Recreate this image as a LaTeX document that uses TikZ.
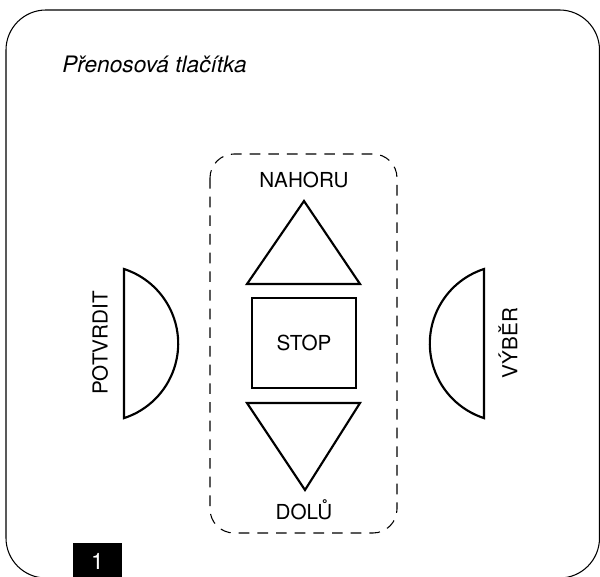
\documentclass[tikz,border=0pt]{standalone}
\usepackage{fontspec}
\setmainfont{TeX Gyre Heros}
\tikzset{
  btnline/.style={line width=1.6pt, line join=miter},
  btnlabel/.style={font=\fontsize{15.5}{17}\selectfont, inner sep=0pt},
  grouplines/.style={line width=0.8pt, dash pattern=on 8pt off 6pt, rounded corners=18pt}
}
\begin{document}
\begin{tikzpicture}[x=0.75pt, y=-0.75pt]
\useasboundingbox (0,0) rectangle (600,577);

%Frame
\draw[line width=0.8pt, rounded corners=30pt] (6,10) rectangle (599.5,578);

%Title
\node[anchor=base west, inner sep=0pt, font=\fontsize{17}{19}\selectfont\itshape] (title) at (62,73) {Přenosová tlačítka};

%Dashed group
\draw[grouplines] (210,154) rectangle (397,533);

%Up
\draw[btnline] (304,201) -- (360,284) -- (247,284) -- cycle;
\node[btnlabel] (up) at (304,180) {NAHORU};

%Stop
\draw[btnline] (252,298) rectangle (356,388);
\node[btnlabel] (stop) at (304,343) {STOP};

%Down
\draw[btnline] (247,403) -- (360,403) -- (305,490) -- cycle;
\node[btnlabel] (down) at (304,510) {DOLŮ};

%Left
\draw[btnline] (124,418) -- (124,269) arc[start angle=-72, end angle=72, radius=78.4] -- cycle;
\node[btnlabel, rotate=90] (confirm) at (100,343) {POTVRDIT};

%Right
\draw[btnline] (484,418) -- (484,269) arc[start angle=252, end angle=108, radius=78.4] -- cycle;
\node[btnlabel, rotate=90] (select) at (508,343) {VÝBĚR};

%Number
\node[fill=black, text=white, minimum width=36.75pt, minimum height=27pt, inner sep=0pt,
  font=\fontsize{17}{18}\selectfont] (num) at (97.5,561) {1};

\end{tikzpicture}
\end{document}
